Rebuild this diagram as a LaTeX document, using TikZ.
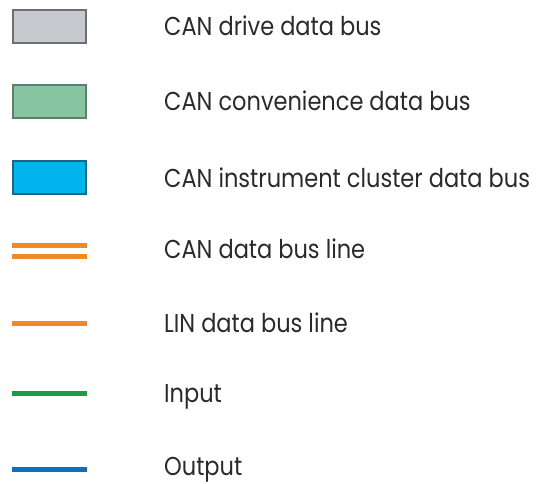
\documentclass[tikz,border=0pt]{standalone}
\usepackage{fontspec}
\setmainfont{Poppins}
\definecolor{drivefill}{HTML}{C6C9CD}
\definecolor{driveedge}{HTML}{6E6F72}
\definecolor{convfill}{HTML}{86C4A2}
\definecolor{convedge}{HTML}{5E7F6E}
\definecolor{instfill}{HTML}{00B5EE}
\definecolor{instedge}{HTML}{1F6585}
\definecolor{canorange}{HTML}{F18A24}
\definecolor{ingreen}{HTML}{1A9C48}
\definecolor{outblue}{HTML}{0B70BE}
\definecolor{txt}{HTML}{2A2A2A}
\newcommand{\talltext}[1]{\scalebox{1}[1.15]{#1}}
\tikzset{
  keybox/.style={draw, line width=2pt, minimum width=73pt, minimum height=33pt, inner sep=0pt},
  keyline/.style={line width=5pt},
  label/.style={anchor=base west, inner sep=0pt, text=txt, font=\fontsize{22.5}{26}\selectfont}
}
\begin{document}
\begin{tikzpicture}[x=1pt,y=-1pt]
\useasboundingbox (0,0) rectangle (536,483);
% boxes
\node[keybox, draw=driveedge, fill=drivefill] (b1) at (49.5,26) {};
\node[keybox, draw=convedge, fill=convfill] (b2) at (49.5,101) {};
\node[keybox, draw=instedge, fill=instfill] (b3) at (49.5,177.5) {};
% lines
\coordinate (c1a) at (12,245); \coordinate (c1b) at (87,245);
\coordinate (c2a) at (12,256); \coordinate (c2b) at (87,256);
\coordinate (la) at (12,323); \coordinate (lb) at (87,323);
\coordinate (ia) at (12,393); \coordinate (ib) at (87,393);
\coordinate (oa) at (12,469); \coordinate (ob) at (87,469);
\draw[keyline, canorange] (c1a) -- (c1b);
\draw[keyline, canorange] (c2a) -- (c2b);
\draw[keyline, canorange] (la) -- (lb);
\draw[keyline, ingreen] (ia) -- (ib);
\draw[keyline, outblue] (oa) -- (ob);
% labels
\node[label] (t1) at (164,35.5) {\talltext{CAN drive data bus}};
\node[label] (t2) at (164,110.5) {\talltext{CAN convenience data bus}};
\node[label] (t3) at (164,187) {\talltext{CAN instrument cluster data bus}};
\node[label] (t4) at (164,258.5) {\talltext{CAN data bus line}};
\node[label] (t5) at (164,332) {\talltext{LIN data bus line}};
\node[label] (t6) at (164,402.5) {\talltext{Input}};
\node[label] (t7) at (164,475) {\talltext{Output}};
\end{tikzpicture}
\end{document}
